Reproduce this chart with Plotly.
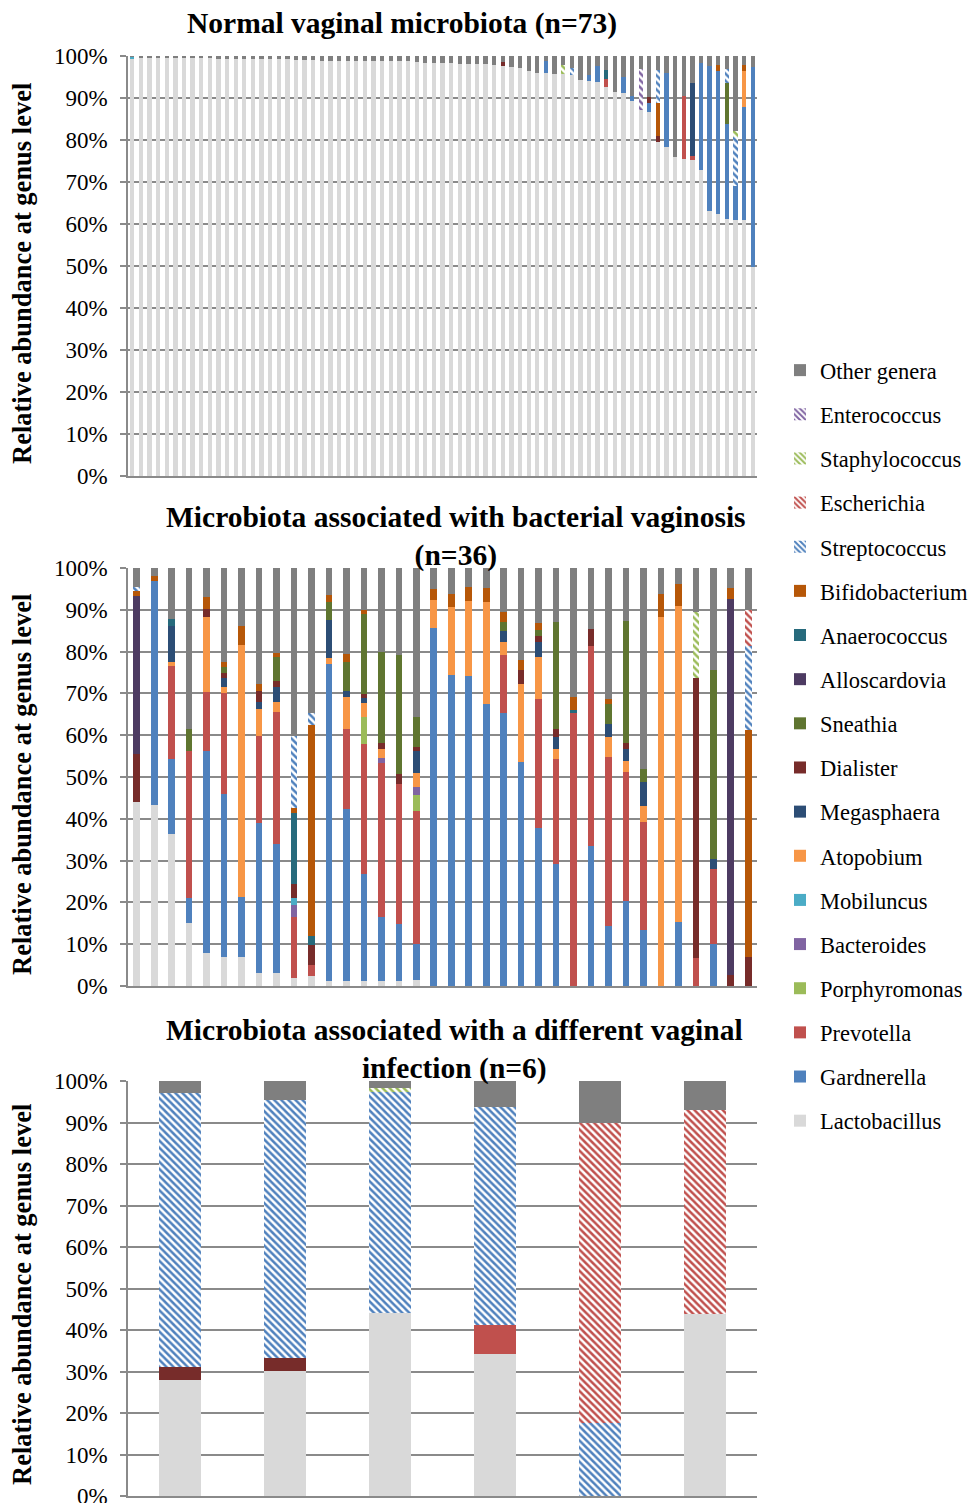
import plotly.graph_objects as go

W, H = 978, 1503

# ---------------- categories / series definitions ----------------
genera = ["Lactobacillus", "Gardnerella", "Prevotella", "Porphyromonas", "Bacteroides",
          "Mobiluncus", "Atopobium", "Megasphaera", "Dialister", "Sneathia",
          "Alloscardovia", "Anaerococcus", "Bifidobacterium", "Streptococcus",
          "Escherichia", "Staphylococcus", "Enterococcus", "Other genera"]

colors = {
    "Lactobacillus": "#d9d9d9", "Gardnerella": "#4f81bd", "Prevotella": "#c0504d",
    "Porphyromonas": "#9bbb59", "Bacteroides": "#8064a2", "Mobiluncus": "#4bacc6",
    "Atopobium": "#f79646", "Megasphaera": "#2c4d75", "Dialister": "#772c2a",
    "Sneathia": "#5f7530", "Alloscardovia": "#4d3b62", "Anaerococcus": "#276a7c",
    "Bifidobacterium": "#b65708", "Streptococcus": "#4f81bd", "Escherichia": "#c0504d",
    "Staphylococcus": "#9bbb59", "Enterococcus": "#8064a2", "Other genera": "#7f7f7f",
}
hatched = ["Streptococcus", "Escherichia", "Staphylococcus", "Enterococcus"]

# ---------------- Normal vaginal microbiota (n=73) ----------------
normal_lactobacillus = [
    99.4, 99.6, 99.6, 99.6, 99.6, 99.6, 99.5, 99.5, 99.5, 99.5,
    99.4, 99.4, 99.4, 99.4, 99.3, 99.3, 99.3, 99.2, 99.2, 99.1,
    99.0, 99.0, 98.9, 98.9, 98.9, 98.8, 98.8, 98.8, 98.8, 98.8,
    98.7, 98.7, 98.7, 98.5, 98.4, 98.4, 98.3, 98.3, 98.2, 98.2,
    98.1, 98.1, 97.9, 97.7, 97.3, 97.2, 96.4, 96.0, 96.0, 95.8,
    95.7, 95.4, 94.4, 94.1, 93.9, 92.6, 91.5, 91.2, 89.3, 87.2,
    86.7, 79.6, 78.4, 76.0, 75.4, 75.2, 72.8, 63.0, 62.5, 61.2,
    61.0, 61.0, 49.8]
normal_other = [
    0.2, 0.4, 0.4, 0.4, 0.4, 0.4, 0.5, 0.5, 0.5, 0.5,
    0.6, 0.6, 0.6, 0.6, 0.7, 0.7, 0.7, 0.8, 0.8, 0.9,
    1.0, 1.0, 1.1, 1.1, 1.1, 1.2, 1.2, 1.2, 1.2, 1.2,
    1.3, 1.3, 1.3, 1.5, 1.6, 1.6, 1.7, 1.7, 1.8, 1.8,
    1.9, 1.9, 2.1, 1.4, 2.7, 2.8, 3.6, 4.0, 1.3, 4.2,
    2.1, 2.8, 5.6, 4.5, 2.3, 3.3, 8.5, 5.0, 9.5, 3.0,
    9.8, 3.4, 4.0, 24.0, 9.6, 6.4, 1.6, 2.4, 2.1, 3.2,
    17.9, 2.1, 2.6]
normal_gardnerella = {48: 2.7, 53: 1.4, 54: 3.8, 57: 3.8, 58: 1.2, 60: 2.1, 62: 17.6,
                      66: 25.6, 67: 34.6, 68: 34.0, 69: 22.6, 70: 8.1, 71: 26.9, 72: 47.6}
normal_prevotella = {55: 1.9, 64: 15.0, 65: 1.0}
normal_mobiluncus = {0: 0.4}
normal_atopobium = {71: 8.6}
normal_megasphaera = {65: 17.4}
normal_dialister = {43: 0.9, 60: 1.4, 61: 1.4}
normal_sneathia = {69: 9.8}
normal_anaerococcus = {55: 2.2}
normal_bifidobacterium = {61: 7.8, 68: 1.4, 71: 1.4}
normal_streptococcus = {51: 1.8, 61: 7.8, 69: 3.2, 70: 11.6}
normal_staphylococcus = {50: 2.2, 70: 1.4}
normal_enterococcus = {59: 9.8}

# ---------------- Bacterial vaginosis (n=36) ----------------
bv_lactobacillus = [44.1, 43.3, 36.3, 15.0, 8.0, 6.9, 7.0, 3.0, 3.0, 1.8, 2.5, 1.3,
                    1.3, 1.2, 1.2, 1.2, 1.4, 0, 0, 0, 0, 0, 0, 0,
                    0, 0, 0, 0, 0, 0, 0, 0, 0, 0, 0, 0]
bv_gardnerella = [0, 53.7, 17.9, 6.1, 48.3, 39.1, 14.4, 36.1, 30.9, 0, 0, 75.8,
                  41.0, 25.6, 15.4, 13.6, 8.6, 85.7, 74.5, 74.2, 67.5, 65.3, 53.7, 37.9,
                  29.1, 0, 33.6, 14.4, 20.3, 13.4, 0, 15.4, 0, 10.0, 0, 0]
bv_prevotella = [0, 0, 22.3, 35.2, 14.1, 24.2, 0, 20.7, 31.7, 14.8, 2.6, 0,
                 19.2, 31.1, 36.7, 33.6, 31.9, 0, 0, 0, 0, 14.0, 0, 30.7,
                 25.3, 65.2, 47.8, 40.3, 30.9, 25.9, 0, 0, 6.8, 17.9, 0, 0]
bv_other = [4.5, 1.9, 12.2, 38.4, 6.9, 22.4, 13.8, 27.7, 20.3, 40.3, 34.8, 6.5,
            20.5, 10.1, 20.1, 20.7, 35.6, 5.1, 6.1, 4.6, 4.9, 10.5, 21.9, 13.1,
            13.0, 30.8, 14.6, 31.4, 12.6, 48.1, 6.3, 3.9, 10.6, 24.4, 4.7, 10.1]
bv_porphyromonas = {13: 6.5, 16: 3.7}
bv_bacteroides = {9: 2.8, 14: 1.2, 16: 2.1}
bv_mobiluncus = {9: 1.7}
bv_atopobium = {2: 1.0, 4: 17.9, 5: 1.4, 6: 60.2, 7: 6.4, 8: 2.4, 11: 1.3, 12: 7.7,
                13: 3.4, 14: 2.2, 16: 3.2, 17: 6.6, 18: 16.2, 19: 18.0, 20: 24.3,
                21: 3.0, 22: 18.5, 23: 10.0, 24: 2.2, 27: 4.8, 28: 2.7, 29: 3.7,
                30: 88.2, 31: 75.6}
bv_megasphaera = {2: 8.7, 5: 2.2, 7: 1.8, 8: 3.6, 11: 9.1, 12: 1.4, 13: 1.2, 16: 5.3,
                  21: 2.6, 23: 3.6, 24: 3.0, 27: 3.1, 28: 2.7, 29: 5.7, 33: 2.4}
bv_dialister = {0: 11.3, 4: 2.0, 5: 1.2, 7: 2.6, 8: 1.3, 9: 3.2, 10: 4.6, 13: 0.8,
                14: 1.4, 15: 2.4, 16: 1.0, 22: 3.3, 23: 1.6, 24: 2.0, 26: 4.0,
                28: 1.6, 32: 66.9, 34: 2.6, 35: 7.0}
bv_sneathia = {3: 5.3, 5: 1.2, 8: 5.7, 11: 4.3, 12: 6.9, 13: 19.3, 14: 21.8, 15: 28.5,
               16: 7.2, 21: 2.1, 23: 1.3, 24: 25.4, 27: 4.9, 28: 29.2, 29: 3.2, 33: 45.3}
bv_alloscardovia = {0: 38.0, 34: 90.0}
bv_anaerococcus = {2: 1.6, 9: 17.1, 10: 2.2, 25: 0.9}
bv_bifidobacterium = {0: 1.1, 1: 1.1, 4: 2.8, 5: 1.4, 6: 4.6, 7: 1.7, 8: 1.1, 9: 1.2,
                      10: 50.5, 11: 1.7, 12: 2.0, 13: 0.8, 17: 2.6, 18: 3.2, 19: 3.2,
                      20: 3.3, 21: 2.5, 22: 2.6, 23: 1.8, 25: 3.1, 27: 1.1, 30: 5.5,
                      31: 5.1, 34: 2.7, 35: 54.2}
bv_streptococcus = {0: 1.0, 9: 17.1, 10: 2.8, 35: 20.1}
bv_escherichia = {35: 8.6}
bv_staphylococcus = {32: 15.7}
bv_enterococcus = {}

# ---------------- Different vaginal infection (n=6) ----------------
inf_lactobacillus = [28.0, 30.2, 44.2, 34.1, 0, 43.8]
inf_prevotella = [0, 0, 0, 7.2, 0, 0]
inf_dialister = [3.0, 3.1, 0, 0, 0, 0]
inf_streptococcus = [66.2, 62.1, 53.1, 52.4, 17.7, 0]
inf_escherichia = [0, 0, 0, 0, 72.1, 49.2]
inf_staphylococcus = [0, 0, 1.1, 0, 0, 0]
inf_other = [2.8, 4.6, 1.6, 6.3, 10.2, 7.0]

y_ticks = [0, 10, 20, 30, 40, 50, 60, 70, 80, 90, 100]
y_tick_labels = [f"{v}%" for v in y_ticks]

titles = ["<b>Normal vaginal microbiota (n=73)</b>",
          "<b>Microbiota associated with bacterial vaginosis<br>(n=36)</b>",
          "<b>Microbiota associated with a different vaginal<br>infection (n=6)</b>"]
y_title = "<b>Relative abundance at genus level</b>"


def dense(sparse, n):
    return [sparse.get(i, 0) for i in range(n)]


n_top, n_mid, n_bot = 73, 36, 6
top_data = {
    "Lactobacillus": normal_lactobacillus,
    "Gardnerella": dense(normal_gardnerella, n_top),
    "Prevotella": dense(normal_prevotella, n_top),
    "Porphyromonas": [0] * n_top,
    "Bacteroides": [0] * n_top,
    "Mobiluncus": dense(normal_mobiluncus, n_top),
    "Atopobium": dense(normal_atopobium, n_top),
    "Megasphaera": dense(normal_megasphaera, n_top),
    "Dialister": dense(normal_dialister, n_top),
    "Sneathia": dense(normal_sneathia, n_top),
    "Alloscardovia": [0] * n_top,
    "Anaerococcus": dense(normal_anaerococcus, n_top),
    "Bifidobacterium": dense(normal_bifidobacterium, n_top),
    "Streptococcus": dense(normal_streptococcus, n_top),
    "Escherichia": [0] * n_top,
    "Staphylococcus": dense(normal_staphylococcus, n_top),
    "Enterococcus": dense(normal_enterococcus, n_top),
    "Other genera": normal_other,
}
mid_data = {
    "Lactobacillus": bv_lactobacillus,
    "Gardnerella": bv_gardnerella,
    "Prevotella": bv_prevotella,
    "Porphyromonas": dense(bv_porphyromonas, n_mid),
    "Bacteroides": dense(bv_bacteroides, n_mid),
    "Mobiluncus": dense(bv_mobiluncus, n_mid),
    "Atopobium": dense(bv_atopobium, n_mid),
    "Megasphaera": dense(bv_megasphaera, n_mid),
    "Dialister": dense(bv_dialister, n_mid),
    "Sneathia": dense(bv_sneathia, n_mid),
    "Alloscardovia": dense(bv_alloscardovia, n_mid),
    "Anaerococcus": dense(bv_anaerococcus, n_mid),
    "Bifidobacterium": dense(bv_bifidobacterium, n_mid),
    "Streptococcus": dense(bv_streptococcus, n_mid),
    "Escherichia": dense(bv_escherichia, n_mid),
    "Staphylococcus": dense(bv_staphylococcus, n_mid),
    "Enterococcus": dense(bv_enterococcus, n_mid),
    "Other genera": bv_other,
}
bot_data = {
    "Lactobacillus": inf_lactobacillus,
    "Prevotella": inf_prevotella,
    "Dialister": inf_dialister,
    "Streptococcus": inf_streptococcus,
    "Escherichia": inf_escherichia,
    "Staphylococcus": inf_staphylococcus,
    "Other genera": inf_other,
}

FONT = "Liberation Serif, Times New Roman, serif"
GRID = "#8a8a8a"
OFF = 8  # page body margin of the html page


def px(x):
    return (x - OFF) / W


def py(y):
    return 1 - (y - OFF) / H


fig = go.Figure()

panels = [
    (top_data, n_top, "x", "y", 0.5, True),
    (mid_data, n_mid, "x2", "y2", 0.38, False),
    (bot_data, n_bot, "x3", "y3", 0.40, False),
]
for data, n, xa, ya, width, show in panels:
    xs = list(range(1, n + 1))
    for g in genera:
        if g not in data:
            continue
        c = colors[g]
        marker = dict(color=c, line=dict(width=0))
        if g in hatched:
            marker["pattern"] = dict(shape="\\", fgcolor=c, bgcolor="white",
                                     size=5, solidity=0.5, fillmode="replace")
        fig.add_trace(go.Bar(
            x=xs, y=data[g], name=g, marker=marker, width=width,
            xaxis=xa, yaxis=ya, legendgroup=g, showlegend=show,
            legendrank=len(genera) - genera.index(g),
        ))

x_dom = [px(128), px(757)]
y_doms = [[py(476), py(56)], [py(986), py(568)], [py(1496), py(1081)]]
ns = [n_top, n_mid, n_bot]

layout = dict(
    width=W, height=H, autosize=False,
    margin=dict(l=0, r=0, t=0, b=0, autoexpand=False),
    paper_bgcolor="white", plot_bgcolor="white",
    barmode="stack",
    font=dict(family=FONT, color="black"),
    legend=dict(
        x=px(780), y=py(349), xanchor="left", yanchor="top",
        font=dict(family=FONT, size=22.5, color="black"),
        traceorder="grouped", tracegroupgap=11.9,
        bgcolor="rgba(0,0,0,0)",
    ),
)
for i, (ydom, n) in enumerate(zip(y_doms, ns)):
    sfx = "" if i == 0 else str(i + 1)
    layout["xaxis" + sfx] = dict(
        domain=x_dom, anchor="y" + sfx, range=[0.5, n + 0.5], automargin=False,
        showticklabels=False, showgrid=False, zeroline=False,
        showline=True, linecolor=GRID, linewidth=1.5, ticks="",
    )
    layout["yaxis" + sfx] = dict(
        domain=ydom, anchor="x" + sfx, range=[0, 100], automargin=False,
        tickvals=y_ticks, ticktext=y_tick_labels,
        tickfont=dict(family=FONT, size=23, color="black"),
        showgrid=True, gridcolor=GRID, gridwidth=1.5, zeroline=False,
        showline=True, linecolor=GRID, linewidth=1.5,
        ticks="outside", ticklen=6, tickcolor=GRID, tickwidth=1.5,
        ticklabelstandoff=8,
    )
fig.update_layout(**layout)

annotations = []
title_pos = [(402, 23), (456, 536.5), (454, 1049)]
for t, (tx, ty) in zip(titles, title_pos):
    annotations.append(dict(text=t, x=px(tx), y=py(ty), xref="paper", yref="paper",
                            xanchor="center", yanchor="middle", showarrow=False,
                            font=dict(family=FONT, size=29.5, color="black")))
for cy in [274, 785, 1295]:
    annotations.append(dict(text=y_title, x=px(22), y=py(cy), xref="paper", yref="paper",
                            xanchor="center", yanchor="middle", showarrow=False,
                            textangle=-90,
                            font=dict(family=FONT, size=26.5, color="black")))
fig.update_layout(annotations=annotations)

fig.write_html("out.html")
